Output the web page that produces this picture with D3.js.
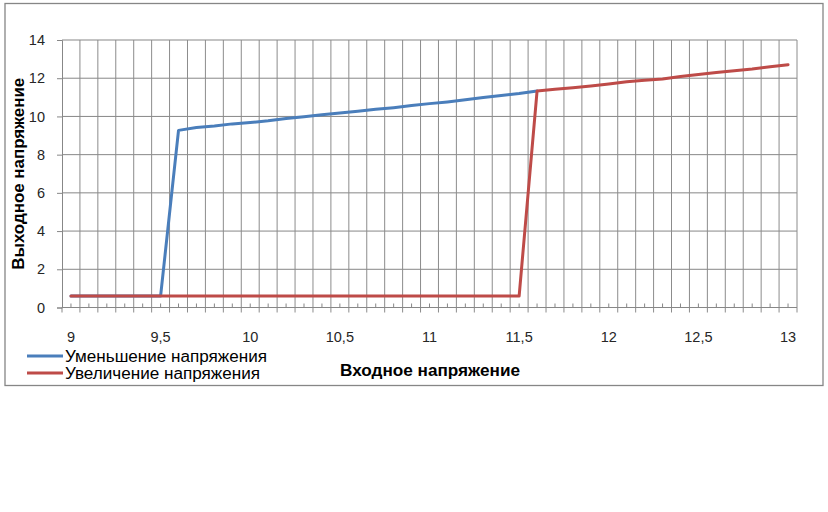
<!DOCTYPE html>
<html>
<head>
<meta charset="utf-8">
<script src="https://cdn.jsdelivr.net/npm/d3@7"></script>
<style>
  html, body { margin: 0; padding: 0; background: #fff; }
  svg { display: block; font-family: "Liberation Sans", Arial, sans-serif; }
</style>
</head>
<body>
<svg id="chart" width="828" height="512"></svg>
<script>
// ---- data ----
const categories = [
  "9","9.1","9.2","9.3","9.4","9.5","9.6","9.7","9.8","9.9",
  "10","10.1","10.2","10.3","10.4","10.5","10.6","10.7","10.8","10.9",
  "11","11.1","11.2","11.3","11.4","11.5","11.6","11.7","11.8","11.9",
  "12","12.1","12.2","12.3","12.4","12.5","12.6","12.7","12.8","12.9","13"
];
const tickLabels = ["9","9,5","10","10,5","11","11,5","12","12,5","13"];
const yTicks = [0, 2, 4, 6, 8, 10, 12, 14];
const decreasing = [
  0.6, 0.6, 0.6, 0.6, 0.6, 0.6,
  9.27, 9.42, 9.50, 9.61, 9.68, 9.77, 9.89, 9.98, 10.09, 10.18,
  10.27, 10.37, 10.46, 10.57, 10.67, 10.76, 10.87, 10.99, 11.10, 11.20,
  11.33
];
const increasing = [
  0.6, 0.6, 0.6, 0.6, 0.6, 0.6, 0.6, 0.6, 0.6, 0.6,
  0.6, 0.6, 0.6, 0.6, 0.6, 0.6, 0.6, 0.6, 0.6, 0.6,
  0.6, 0.6, 0.6, 0.6, 0.6, 0.6,
  11.33, 11.42, 11.50, 11.59, 11.70, 11.81, 11.89, 11.96, 12.09, 12.19,
  12.30, 12.39, 12.48, 12.60, 12.71
];
const seriesNames = ["Уменьшение напряжения", "Увеличение напряжения"];
const seriesColors = ["#4a7ebb", "#be4b48"];

// ---- layout ----
const svg = d3.select("#chart");
const plot = { left: 62, right: 797, top: 40, bottom: 307.5 };

// outer frame
svg.append("rect")
  .attr("x", 5).attr("y", 3.5).attr("width", 818).attr("height", 382)
  .attr("fill", "#fff").attr("stroke", "#868686").attr("stroke-width", 1.3);

const x = d3.scaleBand().domain(categories).range([plot.left, plot.right]).paddingInner(0).paddingOuter(0);
const y = d3.scaleLinear().domain([0, 14]).range([plot.bottom, plot.top]);
const bw = x.bandwidth();
const cx = c => x(c) + bw / 2;

// horizontal gridlines
svg.append("g").selectAll("line").data(yTicks).join("line")
  .attr("x1", plot.left).attr("x2", plot.right)
  .attr("y1", d => y(d)).attr("y2", d => y(d))
  .attr("stroke", "#878787").attr("stroke-width", 1);

// vertical gridlines at category boundaries (extend below axis as major ticks)
const bounds = categories.map(c => x(c)).concat([plot.right]);
svg.append("g").selectAll("line").data(bounds.slice(1)).join("line")
  .attr("x1", d => d).attr("x2", d => d)
  .attr("y1", plot.top).attr("y2", plot.bottom + 5)
  .attr("stroke", "#8c8c8c").attr("stroke-width", 1);

// x axis line and ticks
svg.append("line")
  .attr("x1", plot.left).attr("x2", plot.right)
  .attr("y1", plot.bottom).attr("y2", plot.bottom)
  .attr("stroke", "#878787").attr("stroke-width", 1);
svg.append("line")
  .attr("x1", plot.left).attr("x2", plot.left)
  .attr("y1", plot.bottom).attr("y2", plot.bottom + 5)
  .attr("stroke", "#878787");
// minor ticks at category centres (inside)
svg.append("g").selectAll("line").data(categories).join("line")
  .attr("x1", d => cx(d)).attr("x2", d => cx(d))
  .attr("y1", plot.bottom - 4).attr("y2", plot.bottom)
  .attr("stroke", "#878787").attr("stroke-width", 1);

// y axis via d3
const yAxis = d3.axisLeft(y).tickValues(yTicks).tickSize(5).tickPadding(12)
  .tickFormat(d3.format("d"));
const gy = svg.append("g").attr("transform", `translate(${plot.left},0)`).call(yAxis);
gy.select(".domain").attr("stroke", "#878787");
gy.selectAll(".tick line").attr("stroke", "#878787");
gy.selectAll("text").attr("font-size", 14.5).attr("fill", "#262626")
  .attr("font-family", "Liberation Sans, Arial, sans-serif");

// x axis labels (every 5th category)
const labelCats = categories.filter((c, i) => i % 5 === 0);
svg.append("g").selectAll("text").data(labelCats).join("text")
  .attr("x", d => cx(d)).attr("y", 342)
  .attr("text-anchor", "middle").attr("font-size", 14.5).attr("fill", "#262626")
  .text((d, i) => tickLabels[i]);

// lines
const line = d3.line().x((d, i) => cx(categories[i])).y(d => y(d));
[decreasing, increasing].forEach((s, k) => {
  svg.append("path").datum(s)
    .attr("d", line)
    .attr("fill", "none")
    .attr("stroke", seriesColors[k])
    .attr("stroke-width", 3)
    .attr("stroke-linejoin", "round")
    .attr("stroke-linecap", "round");
});

// axis titles
svg.append("text")
  .attr("transform", `translate(24,${(plot.top + plot.bottom) / 2}) rotate(-90)`)
  .attr("text-anchor", "middle").attr("font-weight", "bold").attr("font-size", 16)
  .attr("fill", "#000")
  .attr("textLength", 192).attr("lengthAdjust", "spacingAndGlyphs")
  .text("Выходное напряжение");

svg.append("text")
  .attr("x", 430).attr("y", 376)
  .attr("text-anchor", "middle").attr("font-weight", "bold").attr("font-size", 16)
  .attr("fill", "#000")
  .attr("textLength", 180).attr("lengthAdjust", "spacingAndGlyphs")
  .text("Входное напряжение");

// legend
const legendY = [356, 373];
const legendW = [202, 195];
seriesNames.forEach((name, k) => {
  svg.append("line")
    .attr("x1", 27).attr("x2", 63)
    .attr("y1", legendY[k]).attr("y2", legendY[k])
    .attr("stroke", seriesColors[k]).attr("stroke-width", 3);
  svg.append("text")
    .attr("x", 65).attr("y", legendY[k] + 5.5)
    .attr("font-size", 16).attr("fill", "#000")
    .attr("textLength", legendW[k]).attr("lengthAdjust", "spacingAndGlyphs")
    .text(name);
});
</script>
</body>
</html>
